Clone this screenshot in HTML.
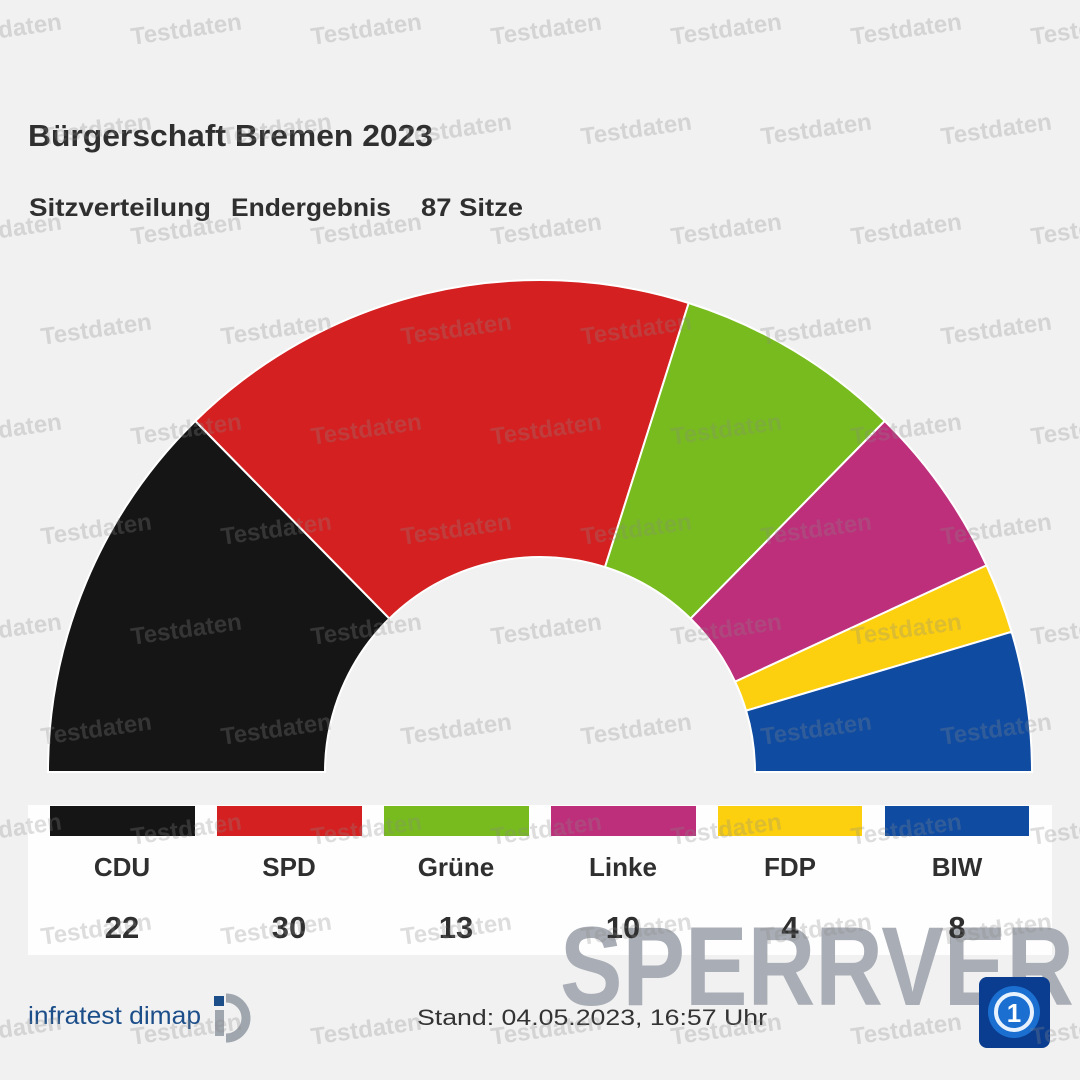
<!DOCTYPE html>
<html><head><meta charset="utf-8"><style>
html,body{margin:0;padding:0;background:#f1f1f1;}
svg{display:block;font-family:"Liberation Sans",sans-serif;}
</style></head><body>
<svg width="1080" height="1080" viewBox="0 0 1080 1080" xmlns="http://www.w3.org/2000/svg">
<rect width="1080" height="1080" fill="#f1f1f1"/>
<text x="28" y="146" font-size="31" font-weight="bold" fill="#2f2f2f" textLength="405" lengthAdjust="spacingAndGlyphs">Bürgerschaft Bremen 2023</text>
<text x="29" y="216" font-size="25" font-weight="bold" fill="#2f2f2f" textLength="182" lengthAdjust="spacingAndGlyphs">Sitzverteilung</text>
<text x="231" y="216" font-size="25" font-weight="bold" fill="#2f2f2f" textLength="160" lengthAdjust="spacingAndGlyphs">Endergebnis</text>
<text x="421" y="216" font-size="25" font-weight="bold" fill="#2f2f2f" textLength="102" lengthAdjust="spacingAndGlyphs">87 Sitze</text>

<g stroke="#ffffff" stroke-width="2">
<path fill="#151515" d="M48,772 A492,492 0 0 1 195.3,421 L389.4,618.6 A215,215 0 0 0 325,772 Z"/>
<path fill="#d42020" d="M195.3,421 A492,492 0 0 1 688.7,303 L605,567.1 A215,215 0 0 0 389.4,618.6 Z"/>
<path fill="#78bb1e" d="M688.7,303 A492,492 0 0 1 884.7,421 L690.6,618.6 A215,215 0 0 0 605,567.1 Z"/>
<path fill="#bd2f7b" d="M884.7,421 A492,492 0 0 1 986.5,565.4 L735.1,681.7 A215,215 0 0 0 690.6,618.6 Z"/>
<path fill="#fdd00f" d="M986.5,565.4 A492,492 0 0 1 1011.6,631.8 L746.1,710.7 A215,215 0 0 0 735.1,681.7 Z"/>
<path fill="#0f4ba1" d="M1011.6,631.8 A492,492 0 0 1 1032,772 L755,772 A215,215 0 0 0 746.1,710.7 Z"/>
</g>

<rect x="28" y="805" width="1024" height="150" fill="#ffffff" fill-opacity="0.9"/>
<rect x="50" y="806" width="145" height="30" fill="#151515"/>
<rect x="217" y="806" width="145" height="30" fill="#d42020"/>
<rect x="384" y="806" width="145" height="30" fill="#78bb1e"/>
<rect x="551" y="806" width="145" height="30" fill="#bd2f7b"/>
<rect x="718" y="806" width="144" height="30" fill="#fdd00f"/>
<rect x="885" y="806" width="144" height="30" fill="#0f4ba1"/>

<text x="560" y="1005" font-size="112" font-weight="bold" fill="#a9adb5" textLength="790" lengthAdjust="spacingAndGlyphs">SPERRVERMERK</text>

<g font-size="26" font-weight="bold" fill="#2f2f2f" text-anchor="middle">
<text x="122" y="876">CDU</text><text x="289" y="876">SPD</text><text x="456" y="876">Grüne</text>
<text x="623" y="876">Linke</text><text x="790" y="876">FDP</text><text x="957" y="876">BIW</text>
</g>
<g font-size="31" font-weight="bold" fill="#2f2f2f" text-anchor="middle">
<text x="122" y="938">22</text><text x="289" y="938">30</text><text x="456" y="938">13</text>
<text x="623" y="938">10</text><text x="790" y="938">4</text><text x="957" y="938">8</text>
</g>

<text x="28" y="1024" font-size="25" fill="#1c4f8a" textLength="173" lengthAdjust="spacingAndGlyphs">infratest dimap</text>
<rect x="214" y="996" width="10" height="10" fill="#1c4f8a"/>
<path d="M226,998 A20,20 0 1 1 226,1038" fill="none" stroke="#a0a6ae" stroke-width="9"/>
<rect x="215" y="1010" width="9" height="26" fill="#a0a6ae"/>
<text x="417" y="1025" font-size="22" fill="#333" textLength="350" lengthAdjust="spacingAndGlyphs">Stand:  04.05.2023, 16:57 Uhr</text>

<rect x="979" y="977" width="71" height="71" rx="8" fill="#0a3d8f"/>
<circle cx="1014" cy="1012" r="26" fill="#1b6fd0"/>
<circle cx="1014" cy="1012" r="18" fill="none" stroke="#e8f2ff" stroke-width="4"/>
<text x="1014" y="1022" font-size="26" font-weight="bold" fill="#ffffff" text-anchor="middle">1</text>

<g fill="#8a8a8a" fill-opacity="0.28" font-size="24" font-weight="bold">
<text x="-50" y="45" transform="rotate(-8 -50 30)">Testdaten</text>
<text x="130" y="45" transform="rotate(-8 130 30)">Testdaten</text>
<text x="310" y="45" transform="rotate(-8 310 30)">Testdaten</text>
<text x="490" y="45" transform="rotate(-8 490 30)">Testdaten</text>
<text x="670" y="45" transform="rotate(-8 670 30)">Testdaten</text>
<text x="850" y="45" transform="rotate(-8 850 30)">Testdaten</text>
<text x="1030" y="45" transform="rotate(-8 1030 30)">Testdaten</text>
<text x="40" y="145" transform="rotate(-8 40 130)">Testdaten</text>
<text x="220" y="145" transform="rotate(-8 220 130)">Testdaten</text>
<text x="400" y="145" transform="rotate(-8 400 130)">Testdaten</text>
<text x="580" y="145" transform="rotate(-8 580 130)">Testdaten</text>
<text x="760" y="145" transform="rotate(-8 760 130)">Testdaten</text>
<text x="940" y="145" transform="rotate(-8 940 130)">Testdaten</text>
<text x="-50" y="245" transform="rotate(-8 -50 230)">Testdaten</text>
<text x="130" y="245" transform="rotate(-8 130 230)">Testdaten</text>
<text x="310" y="245" transform="rotate(-8 310 230)">Testdaten</text>
<text x="490" y="245" transform="rotate(-8 490 230)">Testdaten</text>
<text x="670" y="245" transform="rotate(-8 670 230)">Testdaten</text>
<text x="850" y="245" transform="rotate(-8 850 230)">Testdaten</text>
<text x="1030" y="245" transform="rotate(-8 1030 230)">Testdaten</text>
<text x="40" y="345" transform="rotate(-8 40 330)">Testdaten</text>
<text x="220" y="345" transform="rotate(-8 220 330)">Testdaten</text>
<text x="400" y="345" transform="rotate(-8 400 330)">Testdaten</text>
<text x="580" y="345" transform="rotate(-8 580 330)">Testdaten</text>
<text x="760" y="345" transform="rotate(-8 760 330)">Testdaten</text>
<text x="940" y="345" transform="rotate(-8 940 330)">Testdaten</text>
<text x="-50" y="445" transform="rotate(-8 -50 430)">Testdaten</text>
<text x="130" y="445" transform="rotate(-8 130 430)">Testdaten</text>
<text x="310" y="445" transform="rotate(-8 310 430)">Testdaten</text>
<text x="490" y="445" transform="rotate(-8 490 430)">Testdaten</text>
<text x="670" y="445" transform="rotate(-8 670 430)">Testdaten</text>
<text x="850" y="445" transform="rotate(-8 850 430)">Testdaten</text>
<text x="1030" y="445" transform="rotate(-8 1030 430)">Testdaten</text>
<text x="40" y="545" transform="rotate(-8 40 530)">Testdaten</text>
<text x="220" y="545" transform="rotate(-8 220 530)">Testdaten</text>
<text x="400" y="545" transform="rotate(-8 400 530)">Testdaten</text>
<text x="580" y="545" transform="rotate(-8 580 530)">Testdaten</text>
<text x="760" y="545" transform="rotate(-8 760 530)">Testdaten</text>
<text x="940" y="545" transform="rotate(-8 940 530)">Testdaten</text>
<text x="-50" y="645" transform="rotate(-8 -50 630)">Testdaten</text>
<text x="130" y="645" transform="rotate(-8 130 630)">Testdaten</text>
<text x="310" y="645" transform="rotate(-8 310 630)">Testdaten</text>
<text x="490" y="645" transform="rotate(-8 490 630)">Testdaten</text>
<text x="670" y="645" transform="rotate(-8 670 630)">Testdaten</text>
<text x="850" y="645" transform="rotate(-8 850 630)">Testdaten</text>
<text x="1030" y="645" transform="rotate(-8 1030 630)">Testdaten</text>
<text x="40" y="745" transform="rotate(-8 40 730)">Testdaten</text>
<text x="220" y="745" transform="rotate(-8 220 730)">Testdaten</text>
<text x="400" y="745" transform="rotate(-8 400 730)">Testdaten</text>
<text x="580" y="745" transform="rotate(-8 580 730)">Testdaten</text>
<text x="760" y="745" transform="rotate(-8 760 730)">Testdaten</text>
<text x="940" y="745" transform="rotate(-8 940 730)">Testdaten</text>
<text x="-50" y="845" transform="rotate(-8 -50 830)">Testdaten</text>
<text x="130" y="845" transform="rotate(-8 130 830)">Testdaten</text>
<text x="310" y="845" transform="rotate(-8 310 830)">Testdaten</text>
<text x="490" y="845" transform="rotate(-8 490 830)">Testdaten</text>
<text x="670" y="845" transform="rotate(-8 670 830)">Testdaten</text>
<text x="850" y="845" transform="rotate(-8 850 830)">Testdaten</text>
<text x="1030" y="845" transform="rotate(-8 1030 830)">Testdaten</text>
<text x="40" y="945" transform="rotate(-8 40 930)">Testdaten</text>
<text x="220" y="945" transform="rotate(-8 220 930)">Testdaten</text>
<text x="400" y="945" transform="rotate(-8 400 930)">Testdaten</text>
<text x="580" y="945" transform="rotate(-8 580 930)">Testdaten</text>
<text x="760" y="945" transform="rotate(-8 760 930)">Testdaten</text>
<text x="940" y="945" transform="rotate(-8 940 930)">Testdaten</text>
<text x="-50" y="1045" transform="rotate(-8 -50 1030)">Testdaten</text>
<text x="130" y="1045" transform="rotate(-8 130 1030)">Testdaten</text>
<text x="310" y="1045" transform="rotate(-8 310 1030)">Testdaten</text>
<text x="490" y="1045" transform="rotate(-8 490 1030)">Testdaten</text>
<text x="670" y="1045" transform="rotate(-8 670 1030)">Testdaten</text>
<text x="850" y="1045" transform="rotate(-8 850 1030)">Testdaten</text>
<text x="1030" y="1045" transform="rotate(-8 1030 1030)">Testdaten</text>
</g>
</svg>
</body></html>
